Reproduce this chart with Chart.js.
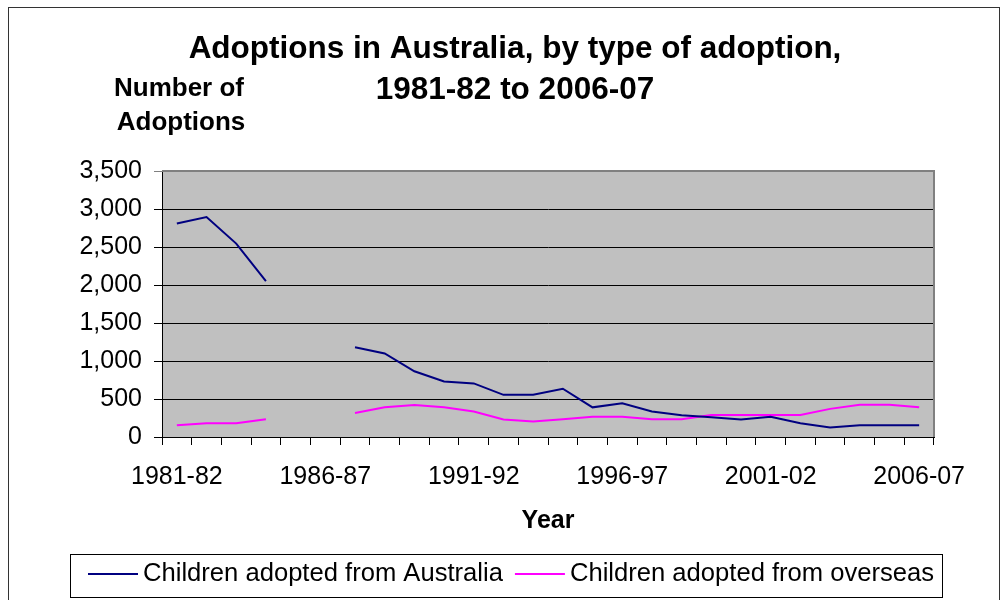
<!DOCTYPE html>
<html>
<head>
<meta charset="utf-8">
<title>Adoptions in Australia</title>
<script src="https://cdn.jsdelivr.net/npm/chart.js@4.4.1/dist/chart.umd.min.js"></script>
<style>
  body { margin: 0; background: #fff; }
  canvas { display: block; }
</style>
</head>
<body>
<canvas id="myChart" width="1004" height="600"></canvas>
<script>
const years = ['1981-82', '1982-83', '1983-84', '1984-85', '1985-86', '1986-87', '1987-88', '1988-89',
  '1989-90', '1990-91', '1991-92', '1992-93', '1993-94', '1994-95', '1995-96', '1996-97', '1997-98',
  '1998-99', '1999-00', '2000-01', '2001-02', '2002-03', '2003-04', '2004-05', '2005-06', '2006-07'];

// 1985-86 and 1986-87 have no data in the source
const fromAustralia = [2810, 2895, 2545, 2050, null, null, 1180, 1100, 865, 730, 705, 555, 555,
  635, 390, 445, 335, 285, 260, 230, 265, 180, 125, 155, 155, 155];
const fromOverseas = [155, 180, 180, 235, null, null, 315, 390, 420, 390, 335, 230, 205,
  235, 265, 265, 235, 235, 290, 290, 290, 290, 370, 425, 425, 390];

const yTicks = [0, 500, 1000, 1500, 2000, 2500, 3000, 3500];

const titleLines = ['Adoptions in Australia, by type of adoption,', '1981-82 to 2006-07'];
const yTitleLines = ['Number of', 'Adoptions'];
const xTitle = 'Year';

const FONT = '"Liberation Sans", Arial, sans-serif';

// grey plot area + frame round the whole picture
const plotBg = {
  id: 'plotBg',
  beforeDraw(chart) {
    const { ctx, chartArea: a } = chart;
    ctx.save();
    ctx.strokeStyle = '#333';
    ctx.lineWidth = 1;
    ctx.strokeRect(8.5, 7.5, 991, 620);
    ctx.fillStyle = '#c0c0c0';
    ctx.fillRect(a.left, a.top, a.right - a.left, a.bottom - a.top);
    ctx.restore();
  },
  beforeDatasetsDraw(chart) {
    const { ctx, chartArea: a } = chart;
    ctx.save();
    ctx.strokeStyle = '#808080';
    ctx.lineWidth = 2;
    ctx.beginPath();
    ctx.moveTo(a.left, a.top);
    ctx.lineTo(a.right, a.top);
    ctx.lineTo(a.right, a.bottom);
    ctx.stroke();
    ctx.restore();
  }
};

// titles and the boxed legend
const texts = {
  id: 'texts',
  afterDraw(chart) {
    const { ctx, chartArea: a } = chart;
    ctx.save();
    ctx.fillStyle = '#000';
    ctx.textAlign = 'center';
    ctx.textBaseline = 'middle';

    ctx.font = 'bold 31.5px ' + FONT;
    ctx.fillText(titleLines[0], 515, 49);
    ctx.fillText(titleLines[1], 515, 90);

    ctx.font = 'bold 26px ' + FONT;
    ctx.fillText(yTitleLines[0], 179, 89);
    ctx.fillText(yTitleLines[1], 181, 123);
    ctx.font = 'bold 25px ' + FONT;
    ctx.fillText(xTitle, (a.left + a.right) / 2, 521);

    // legend
    ctx.strokeStyle = '#000';
    ctx.lineWidth = 1;
    ctx.strokeRect(70.5, 554.5, 872, 43);
    ctx.font = '25.6px ' + FONT;
    ctx.textAlign = 'left';
    let x = 88;
    const ly = 574;
    chart.data.datasets.forEach(ds => {
      ctx.strokeStyle = ds.borderColor;
      ctx.lineWidth = 2;
      ctx.beginPath();
      ctx.moveTo(x, ly);
      ctx.lineTo(x + 50, ly);
      ctx.stroke();
      ctx.fillText(ds.label, x + 55, ly);
      x += 55 + ctx.measureText(ds.label).width + 12;
    });
    ctx.restore();
  }
};

function initChart(target) {
  return new Chart(target, {
    type: 'line',
    data: {
      labels: years,
      datasets: [{
        label: 'Children adopted from Australia',
        data: fromAustralia,
        borderColor: '#000080',
        borderWidth: 2,
        pointRadius: 0,
        tension: 0
      }, {
        label: 'Children adopted from overseas',
        data: fromOverseas,
        borderColor: '#ff00ff',
        borderWidth: 2,
        pointRadius: 0,
        tension: 0
      }]
    },
    options: {
      responsive: false,
      animation: false,
      devicePixelRatio: 1,
      layout: { padding: { top: 171, right: 70, left: 0, bottom: 103 } },
      plugins: {
        legend: { display: false },
        title: { display: false },
        tooltip: { enabled: false }
      },
      scales: {
        x: {
          offset: true,
          afterFit(scale) { scale.height = 60; },
          grid: { offset: true, drawOnChartArea: false, drawTicks: true, tickLength: 8, color: '#000' },
          border: { color: '#000', width: 1 },
          ticks: {
            autoSkip: false,
            maxRotation: 0,
            padding: 17,
            color: '#000',
            font: { family: FONT, size: 25 },
            callback(v, i) { return i % 5 === 0 ? years[i] : ''; }
          }
        },
        y: {
          min: 0,
          max: 3500,
          afterFit(scale) { scale.width = 162; },
          afterBuildTicks(scale) { scale.ticks = yTicks.map(v => ({ value: v })); },
          grid: {
            tickLength: 8,
            color: ctx => (ctx.tick && ctx.tick.value === 3500 ? '#808080' : '#000')
          },
          border: { color: '#000', width: 1 },
          ticks: {
            padding: 12,
            color: '#000',
            font: { family: FONT, size: 25 },
            callback(v) { return v.toLocaleString('en-US'); }
          }
        }
      }
    },
    plugins: [plotBg, texts]
  });
}

document.addEventListener('DOMContentLoaded', () => initChart(document.getElementById('myChart')));
</script>
</body>
</html>
